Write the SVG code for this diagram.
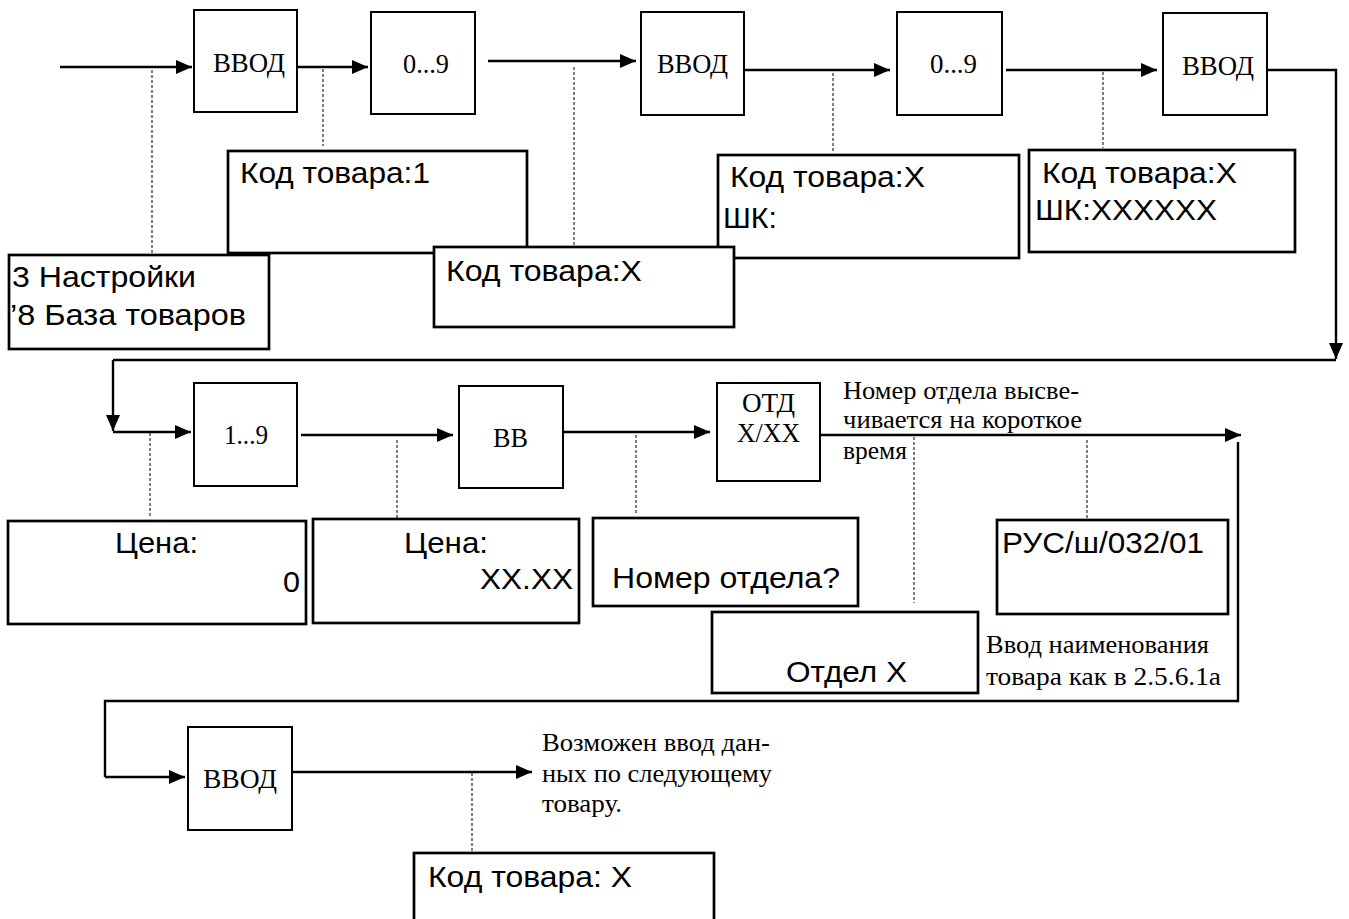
<svg xmlns="http://www.w3.org/2000/svg" width="1349" height="919" viewBox="0 0 1349 919">
<style>
.key{fill:#fff;stroke:#000;stroke-width:2}
.disp{fill:#fff;stroke:#000;stroke-width:2.7}
.con{fill:none;stroke:#000;stroke-width:2.4}
.dash{fill:none;stroke:#000;stroke-width:1;stroke-dasharray:3 2}
.s{font-family:"Liberation Sans",Arial,sans-serif;font-size:30px;fill:#000}
.k{font-family:"Liberation Serif","Times New Roman",serif;font-size:28px;fill:#000}
.n{font-family:"Liberation Serif","Times New Roman",serif;font-size:26px;fill:#000}
</style>
<defs>
<marker id="ah" markerUnits="userSpaceOnUse" markerWidth="16" markerHeight="14" refX="16" refY="7" orient="auto">
<path d="M0,0 L16,7 L0,14 z" fill="#000"/>
</marker>
</defs>
<g id="connectors">
<line class="con" x1="60" y1="67" x2="192" y2="67" marker-end="url(#ah)"/>
<line class="con" x1="298" y1="67" x2="368" y2="67" marker-end="url(#ah)"/>
<line class="con" x1="488" y1="61" x2="636" y2="61" marker-end="url(#ah)"/>
<line class="con" x1="745" y1="70" x2="890" y2="70" marker-end="url(#ah)"/>
<line class="con" x1="1006" y1="70" x2="1157" y2="70" marker-end="url(#ah)"/>
<polyline class="con" points="1267,70 1336,70 1336,359" marker-end="url(#ah)"/>
<line class="con" x1="1336" y1="360" x2="113" y2="360"/>
<line class="con" x1="113" y1="360" x2="113" y2="431" marker-end="url(#ah)"/>
<line class="con" x1="113" y1="432" x2="191" y2="432" marker-end="url(#ah)"/>
<line class="con" x1="301" y1="435" x2="453" y2="435" marker-end="url(#ah)"/>
<line class="con" x1="564" y1="432" x2="710" y2="432" marker-end="url(#ah)"/>
<line class="con" x1="820" y1="435" x2="1241" y2="435" marker-end="url(#ah)"/>
<polyline class="con" points="1238,442 1238,701 105,701 105,777"/>
<line class="con" x1="105" y1="777" x2="185" y2="777" marker-end="url(#ah)"/>
<line class="con" x1="292" y1="772" x2="532" y2="772" marker-end="url(#ah)"/>
<line class="dash" x1="152" y1="70" x2="152" y2="254"/>
<line class="dash" x1="323" y1="69" x2="323" y2="146"/>
<line class="dash" x1="574" y1="67" x2="574" y2="258"/>
<line class="dash" x1="833" y1="73" x2="833" y2="151"/>
<line class="dash" x1="1103" y1="72" x2="1103" y2="148"/>
<line class="dash" x1="150" y1="433" x2="150" y2="516"/>
<line class="dash" x1="397" y1="440" x2="397" y2="518"/>
<line class="dash" x1="636" y1="435" x2="636" y2="513"/>
<line class="dash" x1="914" y1="437" x2="914" y2="603"/>
<line class="dash" x1="1087" y1="440" x2="1087" y2="518"/>
<line class="dash" x1="472" y1="773" x2="472" y2="851"/>
</g>
<g id="k1"><rect class="key" x="194" y="10" width="103" height="102"/><text class="k" x="213" y="72" textLength="72" lengthAdjust="spacingAndGlyphs">ВВОД</text></g>
<g id="k2"><rect class="key" x="371" y="12" width="104" height="102"/><text class="k" x="403" y="73" textLength="46" lengthAdjust="spacingAndGlyphs">0...9</text></g>
<g id="k3"><rect class="key" x="641" y="12" width="103" height="103"/><text class="k" x="657" y="73" textLength="71" lengthAdjust="spacingAndGlyphs">ВВОД</text></g>
<g id="k4"><rect class="key" x="897" y="12" width="105" height="103"/><text class="k" x="930" y="73" textLength="47" lengthAdjust="spacingAndGlyphs">0...9</text></g>
<g id="k5"><rect class="key" x="1163" y="13" width="104" height="102"/><text class="k" x="1182" y="75" textLength="72" lengthAdjust="spacingAndGlyphs">ВВОД</text></g>
<g id="d1"><rect class="disp" x="9" y="255" width="260" height="94"/><text class="s" x="12" y="287" textLength="184" lengthAdjust="spacingAndGlyphs">3 Настройки</text><text class="s" x="10" y="325" textLength="236" lengthAdjust="spacingAndGlyphs">’8 База товаров</text></g>
<g id="d2"><rect class="disp" x="228" y="151" width="299" height="102"/><text class="s" x="240" y="183" textLength="190" lengthAdjust="spacingAndGlyphs">Код товара:1</text></g>
<g id="d4"><rect class="disp" x="718" y="155" width="301" height="103"/><text class="s" x="730" y="187" textLength="195" lengthAdjust="spacingAndGlyphs">Код товара:X</text><text class="s" x="723" y="228" textLength="54" lengthAdjust="spacingAndGlyphs">ШК:</text></g>
<g id="d3"><rect class="disp" x="434" y="247" width="300" height="80"/><text class="s" x="446" y="281" textLength="196" lengthAdjust="spacingAndGlyphs">Код товара:X</text></g>
<g id="d5"><rect class="disp" x="1029" y="150" width="266" height="102"/><text class="s" x="1042" y="183" textLength="195" lengthAdjust="spacingAndGlyphs">Код товара:X</text><text class="s" x="1035" y="220" textLength="182" lengthAdjust="spacingAndGlyphs">ШК:XXXXXX</text></g>
<g id="k6"><rect class="key" x="194" y="383" width="103" height="103"/><text class="k" x="224" y="444" textLength="44" lengthAdjust="spacingAndGlyphs">1...9</text></g>
<g id="k7"><rect class="key" x="459" y="386" width="104" height="102"/><text class="k" x="493" y="447" textLength="35" lengthAdjust="spacingAndGlyphs">ВВ</text></g>
<g id="k8"><rect class="key" x="717" y="383" width="103" height="98"/><text class="k" x="742" y="412" textLength="53" lengthAdjust="spacingAndGlyphs">ОТД</text><text class="k" x="737" y="442" textLength="63" lengthAdjust="spacingAndGlyphs">X/XX</text></g>
<g id="note1"><text class="n" x="843" y="399" textLength="236" lengthAdjust="spacingAndGlyphs">Номер отдела высве-</text><text class="n" x="843" y="428" textLength="239" lengthAdjust="spacingAndGlyphs">чивается на короткое</text><text class="n" x="843" y="459" textLength="64" lengthAdjust="spacingAndGlyphs">время</text></g>
<g id="d6"><rect class="disp" x="8" y="521" width="298" height="103"/><text class="s" x="115" y="553" textLength="83" lengthAdjust="spacingAndGlyphs">Цена:</text><text class="s" x="283" y="592" textLength="17" lengthAdjust="spacingAndGlyphs">0</text></g>
<g id="d7"><rect class="disp" x="313" y="519" width="266" height="104"/><text class="s" x="404" y="553" textLength="84" lengthAdjust="spacingAndGlyphs">Цена:</text><text class="s" x="480" y="589" textLength="93" lengthAdjust="spacingAndGlyphs">XX.XX</text></g>
<g id="d8"><rect class="disp" x="593" y="518" width="265" height="88"/><text class="s" x="612" y="588" textLength="228" lengthAdjust="spacingAndGlyphs">Номер отдела?</text></g>
<g id="d9"><rect class="disp" x="712" y="612" width="266" height="81"/><text class="s" x="786" y="682" textLength="121" lengthAdjust="spacingAndGlyphs">Отдел X</text></g>
<g id="d10"><rect class="disp" x="997" y="520" width="231" height="94"/><text class="s" x="1002" y="553" textLength="202" lengthAdjust="spacingAndGlyphs">РУС/ш/032/01</text></g>
<g id="note2"><text class="n" x="986" y="653" textLength="223" lengthAdjust="spacingAndGlyphs">Ввод наименования</text><text class="n" x="986" y="685" textLength="235" lengthAdjust="spacingAndGlyphs">товара как в  2.5.6.1а</text></g>
<g id="k9"><rect class="key" x="188" y="727" width="104" height="103"/><text class="k" x="203" y="788" textLength="74" lengthAdjust="spacingAndGlyphs">ВВОД</text></g>
<g id="note3"><text class="n" x="542" y="751" textLength="228" lengthAdjust="spacingAndGlyphs">Возможен ввод дан-</text><text class="n" x="542" y="782" textLength="230" lengthAdjust="spacingAndGlyphs">ных по следующему</text><text class="n" x="542" y="812" textLength="80" lengthAdjust="spacingAndGlyphs">товару.</text></g>
<g id="d11"><rect class="disp" x="414" y="853" width="300" height="90"/><text class="s" x="428" y="887" textLength="204" lengthAdjust="spacingAndGlyphs">Код товара: X</text></g>
</svg>
